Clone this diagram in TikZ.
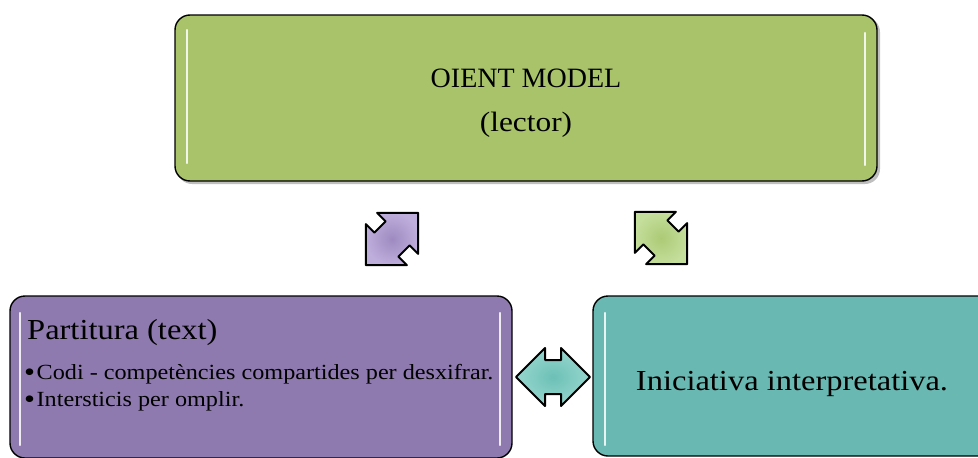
\documentclass[tikz,border=0pt]{standalone}
\usepackage{fontspec}
\setmainfont{Liberation Serif}
\newfontfamily\widefont{Liberation Serif}[FakeStretch=1.12]

\definecolor{boxgreen}{RGB}{169,195,106}
\definecolor{boxpurple}{RGB}{143,122,175}
\definecolor{boxteal}{RGB}{106,184,178}
\definecolor{arrgreenin}{RGB}{172,202,118}
\definecolor{arrgreenout}{RGB}{196,222,155}
\definecolor{arrpurplein}{RGB}{158,138,192}
\definecolor{arrpurpleout}{RGB}{190,174,220}
\definecolor{arrtealin}{RGB}{108,192,182}
\definecolor{arrtealout}{RGB}{150,214,206}

% enlarged list bullet that keeps the line height of the text
\newcommand{\bigdot}{\smash{\fontsize{28}{27}\selectfont\raisebox{-2pt}{\textbullet}}\hspace{1.5pt}}

\tikzset{
  roundbox/.style={draw=black, line width=1.4pt, rounded corners=15pt, inner sep=0pt},
  glint/.style={draw=white, line width=2.2pt, line cap=round, opacity=0.85},
  blockarrow/.style={draw=black, line width=2pt, line join=round},
  titletxt/.style={font=\fontsize{28}{34}\selectfont, anchor=base, inner sep=0pt},
  bodytxt/.style={font=\widefont\fontsize{29}{34}\selectfont, inner sep=0pt},
  itemtxt/.style={font=\widefont\fontsize{21.6}{26}\selectfont, anchor=base west, inner sep=0pt},
  % double-headed block arrow, 74pt long, heads 58pt wide, shaft 34pt wide
  dblarrow/.pic={
    \path[pic actions]
      (37,0) -- (8,29) -- (8,17) -- (-8,17) -- (-8,29) -- (-37,0)
      -- (-8,-29) -- (-8,-17) -- (8,-17) -- (8,-29) -- cycle;
  },
}

\begin{document}
\begin{tikzpicture}[x=1pt, y=-1pt]
  \useasboundingbox (0,0) rectangle (978,458);
  \clip (0,0) rectangle (978,458);

  % top box: listener
  \path[fill=black!25, rounded corners=15pt] (177,17) rectangle (880,184);
  \node[roundbox, fill=boxgreen, minimum width=702pt, minimum height=166pt]
    (oient) at (526,98) {};
  \draw[glint] (187,30) -- (187,163);
  \draw[glint] (865,33) -- (865,165);
  \node[titletxt] (oientA) at (526,87) {OIENT MODEL};
  \node[titletxt, font=\widefont\fontsize{28}{34}\selectfont] (oientB) at (526,131) {(lector)};

  % lower left box: score
  \node[roundbox, fill=boxpurple, minimum width=502pt, minimum height=162pt]
    (partitura) at (261,377) {};
  \draw[glint] (20,313) -- (20,445);
  \draw[glint] (500,313) -- (500,445);
  \node[bodytxt, anchor=base west] (ptitle) at (27,339) {Partitura (text)};
  \node[itemtxt] (pitem1) at (24,379) {\bigdot Codi - competències compartides per desxifrar.};
  \node[itemtxt] (pitem2) at (24,406) {\bigdot Intersticis per omplir.};

  % lower right box: interpretation
  \node[roundbox, fill=boxteal, minimum width=420pt, minimum height=160pt]
    (inic) at (803,376) {};
  \draw[glint] (605,313) -- (605,445);
  \node[bodytxt, anchor=base] (inictxt) at (792,390) {Iniciativa interpretativa.};

  % block arrows between the boxes
  \coordinate (a1) at (392,239);
  \coordinate (a2) at (661,238);
  \coordinate (a3) at (553,377);
  \pic[blockarrow, inner color=arrpurplein, outer color=arrpurpleout, rotate=45] at (a1) {dblarrow};
  \pic[blockarrow, inner color=arrgreenin, outer color=arrgreenout, rotate=-45] at (a2) {dblarrow};
  \pic[blockarrow, inner color=arrtealin, outer color=arrtealout] at (a3) {dblarrow};
\end{tikzpicture}
\end{document}
